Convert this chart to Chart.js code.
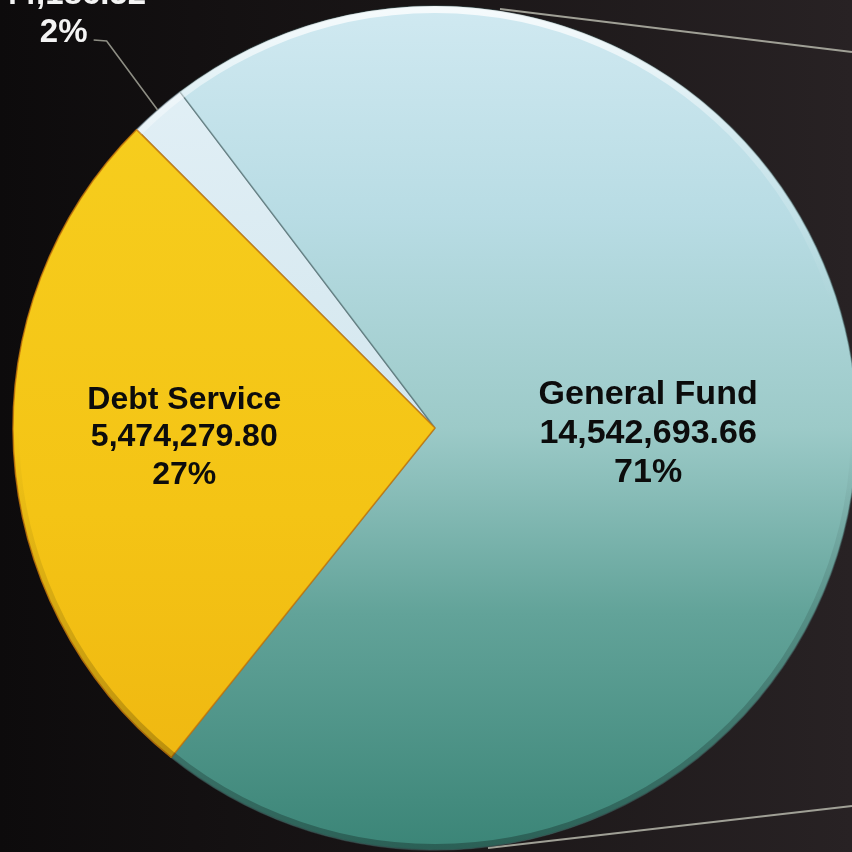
<!DOCTYPE html>
<html lang="en">
<head>
  <meta charset="UTF-8">
  <title>Fund Distribution</title>
  <script src="https://cdn.jsdelivr.net/npm/chart.js"></script>
  <style>
    html, body { margin: 0; padding: 0; width: 852px; height: 852px; overflow: hidden; }
    body { background: linear-gradient(90deg, #0d0b0c 0%, #1a1617 50%, #282224 100%); }
    #wrap { position: absolute; left: 0; top: 0; width: 870px; height: 870px; }
  </style>
</head>
<body>
  <div id="wrap"><canvas id="graficoFundos"></canvas></div>
  <script>
    // dados
    const fundos = ['Capital Projects', 'General Fund', 'Debt Service'];
    const valores = [444186.52, 14542693.66, 5474279.80];

    const total = valores.reduce((a, b) => a + b, 0);
    const fmt = v => v.toLocaleString('en-US', { minimumFractionDigits: 2, maximumFractionDigits: 2 });
    const pct = v => Math.round(v / total * 100) + '%';

    // gradientes verticais por fatia
    function preenchimento(ctx) {
      const chart = ctx.chart;
      const area = chart.chartArea;
      if (!area) return '#9cc';
      const g = chart.ctx.createLinearGradient(0, area.top, 0, area.bottom);
      if (ctx.dataIndex === 1) {
        g.addColorStop(0, '#d0e9f1');
        g.addColorStop(0.25, '#b8dce4');
        g.addColorStop(0.5, '#9ccac8');
        g.addColorStop(0.72, '#62a399');
        g.addColorStop(1, '#3b8577');
      } else if (ctx.dataIndex === 2) {
        g.addColorStop(0, '#f7d020');
        g.addColorStop(0.6, '#f4c415');
        g.addColorStop(1, '#eeb410');
      } else {
        g.addColorStop(0, '#e4f1f7');
        g.addColorStop(1, '#c4dde6');
      }
      return g;
    }

    // rotulos das fatias
    const rotulos = {
      id: 'rotulos',
      afterDatasetsDraw(chart, args, opts) {
        const ctx = chart.ctx;
        const arcs = chart.getDatasetMeta(0).data;
        ctx.save();
        ctx.textAlign = 'center';
        ctx.textBaseline = 'alphabetic';
        arcs.forEach((arc, i) => {
          const { x, y, startAngle, endAngle, outerRadius } = arc.getProps(['x', 'y', 'startAngle', 'endAngle', 'outerRadius'], true);
          const mid = (startAngle + endAngle) / 2;
          const linhas = [fundos[i], fmt(valores[i]), pct(valores[i])];
          const size = opts.fontSizes[i];
          ctx.font = 'bold ' + size + 'px "Liberation Sans", Arial, sans-serif';
          if (opts.outside[i]) {
            // linha guia para a fatia pequena
            const ex = x + Math.cos(mid) * outerRadius;
            const ey = y + Math.sin(mid) * outerRadius;
            const kx = ex - 51, ky = ey - 69;
            ctx.strokeStyle = '#8e8e84';
            ctx.lineWidth = 1.6;
            ctx.beginPath();
            ctx.moveTo(ex, ey);
            ctx.lineTo(kx, ky);
            ctx.lineTo(kx - 13, ky - 1);
            ctx.stroke();
            ctx.fillStyle = '#f4f4f4';
            const cx = kx - 43, base = ky + 1;
            linhas.forEach((t, k) => {
              ctx.fillText(t, cx, base - (linhas.length - 1 - k) * opts.lineHeight[i]);
            });
          } else {
            const r = outerRadius * opts.radius[i];
            const cx = x + Math.cos(mid) * r;
            const cy = y + Math.sin(mid) * r + opts.shiftY[i];
            ctx.fillStyle = '#0c0c0c';
            linhas.forEach((t, k) => {
              ctx.fillText(t, cx, cy + size * 0.36 + (k - 1) * opts.lineHeight[i]);
            });
          }
        });
        ctx.restore();
      }
    };

    // brilho na borda de cima e linhas de ligacao
    const acabamento = {
      id: 'acabamento',
      beforeDatasetsDraw(chart) {
        const ctx = chart.ctx;
        ctx.save();
        ctx.strokeStyle = '#a0a096';
        ctx.lineWidth = 2;
        ctx.beginPath();
        ctx.moveTo(500, 9);
        ctx.lineTo(852, 52);
        ctx.moveTo(488, 848);
        ctx.lineTo(852, 806);
        ctx.stroke();
        ctx.restore();
      },
      afterDatasetsDraw(chart) {
        const arc = chart.getDatasetMeta(0).data[0];
        const { x, y, outerRadius } = arc.getProps(['x', 'y', 'outerRadius'], true);
        const ctx = chart.ctx;
        ctx.save();
        const g = ctx.createLinearGradient(0, y - outerRadius, 0, y);
        g.addColorStop(0, 'rgba(255,255,255,0.8)');
        g.addColorStop(0.3, 'rgba(255,255,255,0.3)');
        g.addColorStop(0.7, 'rgba(255,255,255,0)');
        ctx.strokeStyle = g;
        ctx.lineWidth = 7;
        ctx.beginPath();
        ctx.arc(x, y, outerRadius - 3.5, Math.PI * 1.25, Math.PI * 2.05);
        ctx.stroke();
        // sombra suave na parte de baixo
        const s = ctx.createLinearGradient(0, y, 0, y + outerRadius);
        s.addColorStop(0, 'rgba(0,0,0,0)');
        s.addColorStop(1, 'rgba(0,0,0,0.28)');
        ctx.strokeStyle = s;
        ctx.lineWidth = 6;
        ctx.beginPath();
        ctx.arc(x, y, outerRadius - 3, 0, Math.PI);
        ctx.stroke();
        ctx.restore();
      }
    };

    new Chart(document.getElementById('graficoFundos'), {
      type: 'pie',
      data: {
        labels: fundos,
        datasets: [{
          data: valores,
          backgroundColor: preenchimento,
          borderColor: ['rgba(90,110,120,0.7)', 'rgba(70,100,100,0.5)', 'rgba(200,120,10,0.8)'],
          borderWidth: 1.5,
          radius: 422
        }]
      },
      options: {
        responsive: true,
        maintainAspectRatio: false,
        animation: false,
        rotation: -45,
        layout: { padding: { left: 13, top: 6, right: 13, bottom: 20 } },
        plugins: {
          legend: { display: false },
          tooltip: { enabled: false },
          rotulos: {
            fontSizes: [33, 34, 32],
            lineHeight: [38, 39, 37.5],
            radius: [1, 0.505, 0.595],
            shiftY: [0, 0, -7],
            outside: [true, false, false]
          }
        }
      },
      plugins: [acabamento, rotulos]
    });
  </script>
</body>
</html>
